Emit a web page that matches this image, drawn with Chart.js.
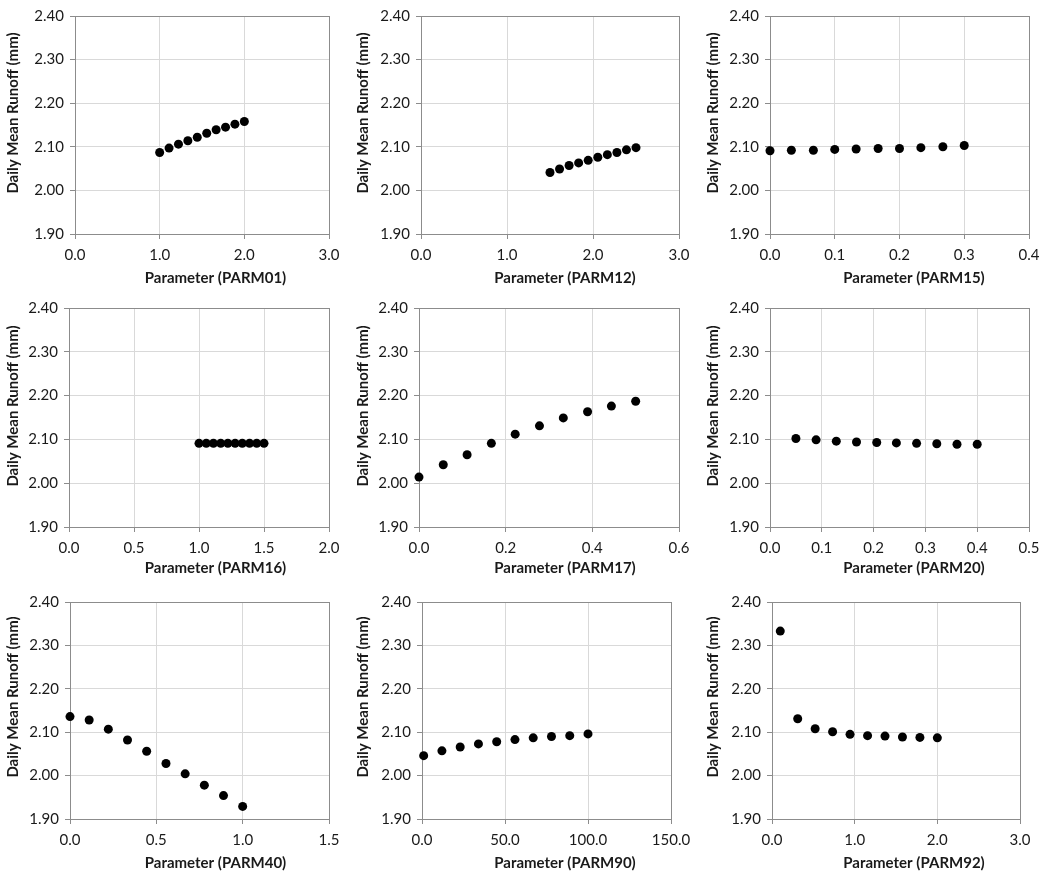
<!DOCTYPE html>
<html><head><meta charset="utf-8">
<script src="https://cdn.jsdelivr.net/npm/chart.js@4/dist/chart.umd.min.js"></script>
<style>
html,body{margin:0;padding:0;background:#fff;}
#wrap{position:relative;width:1048px;height:877px;overflow:hidden;}
#wrap canvas{position:absolute;}
</style></head><body><div id="wrap"></div>
<script>
// ---- data ----
const yTitle = 'Daily Mean Runoff (mm)';
const parmNames = ['PARM01','PARM12','PARM15','PARM16','PARM17','PARM20','PARM40','PARM90','PARM92'];

const parm01X = [1.000,1.111,1.222,1.333,1.444,1.556,1.667,1.778,1.889,2.000];
const parm01Y = [2.087,2.097,2.106,2.114,2.122,2.131,2.139,2.145,2.152,2.158];

const parm12X = [1.500,1.611,1.722,1.833,1.944,2.056,2.167,2.278,2.389,2.500];
const parm12Y = [2.041,2.049,2.057,2.063,2.069,2.076,2.082,2.087,2.093,2.098];

const parm15X = [0.000,0.033,0.067,0.100,0.133,0.167,0.200,0.233,0.267,0.300];
const parm15Y = [2.091,2.092,2.092,2.094,2.095,2.096,2.096,2.098,2.100,2.103];

const parm16X = [1.000,1.056,1.111,1.167,1.222,1.278,1.333,1.389,1.444,1.500];
const parm16Y = [2.091,2.091,2.091,2.091,2.091,2.091,2.091,2.091,2.091,2.091];

const parm17X = [0.000,0.056,0.111,0.167,0.222,0.278,0.333,0.389,0.444,0.500];
const parm17Y = [2.014,2.042,2.065,2.091,2.112,2.131,2.149,2.163,2.176,2.187];

const parm20X = [0.050,0.089,0.128,0.167,0.206,0.244,0.283,0.322,0.361,0.400];
const parm20Y = [2.102,2.099,2.096,2.094,2.093,2.092,2.091,2.090,2.089,2.089];

const parm40X = [0.000,0.111,0.222,0.333,0.444,0.556,0.667,0.778,0.889,1.000];
const parm40Y = [2.136,2.128,2.107,2.082,2.056,2.028,2.004,1.978,1.954,1.929];

const parm90X = [1,12,23,34,45,56,67,78,89,100];
const parm90Y = [2.046,2.057,2.066,2.073,2.078,2.083,2.087,2.090,2.092,2.096];

const parm92X = [0.100,0.311,0.522,0.733,0.944,1.156,1.367,1.578,1.789,2.000];
const parm92Y = [2.333,2.131,2.108,2.101,2.095,2.092,2.091,2.089,2.088,2.087];

const yMin = 1.90, yMax = 2.40, yStep = 0.10;
const xMaxs  = [3, 3, 0.4, 2, 0.6, 0.5, 1.5, 150, 3];
const xSteps = [1, 1, 0.1, 0.5, 0.2, 0.1, 0.5, 50, 1];

const seriesX = [parm01X,parm12X,parm15X,parm16X,parm17X,parm20X,parm40X,parm90X,parm92X];
const seriesY = [parm01Y,parm12Y,parm15Y,parm16Y,parm17Y,parm20Y,parm40Y,parm90Y,parm92Y];

// ---- layout (page pixels) ----
const colLeft = [0, 350, 700];
const rowTop = [0, 290, 583];
const plotRects = [
  [75,16,329,234],[421,16,679,234],[770,16,1029,234],
  [69,308,329,527],[419,308,679,527],[770,308,1029,527],
  [70,602,329,819],[422,602,671,819],[772,602,1020,819]
];
const xTitleCX = [215.5, 565, 914];
const xTitleCY = [278.5, 568.5, 863.5];
const yTitleCX = [13, 363, 713];
const yTitleCY = [113, 406, 697];
const X_AXIS_H = 56, RIGHT_PAD = 22;
const FONT = 'Lato, "Open Sans", sans-serif';
const TXT = '#1a1a1a', GRID = '#d9d9d9', AXIS = '#8c8c8c';

const framePlugin = {
  id: 'frame',
  beforeDatasetsDraw(chart) {
    const a = chart.chartArea, ctx = chart.ctx;
    ctx.save();
    ctx.strokeStyle = AXIS; ctx.lineWidth = 1;
    ctx.strokeRect(Math.round(a.left) + 0.5, Math.round(a.top) + 0.5,
                   Math.round(a.right - a.left), Math.round(a.bottom - a.top));
    ctx.restore();
  },
  afterDraw(chart, args, opts) {
    const ctx = chart.ctx;
    ctx.save();
    ctx.fillStyle = TXT;
    ctx.font = 'bold 15px ' + FONT;
    ctx.textAlign = 'center'; ctx.textBaseline = 'middle';
    ctx.fillText(opts.xText, opts.xcx, opts.xcy);
    ctx.translate(opts.ycx, opts.ycy);
    ctx.rotate(-Math.PI / 2);
    ctx.fillText(opts.yText, 0, 0);
    ctx.restore();
  }
};

const wrap = document.getElementById('wrap');
for (let i = 0; i < 9; i++) {
  const col = i % 3, row = Math.floor(i / 3);
  const [pl, pt, pr, pb] = plotRects[i];
  const cl = colLeft[col], ct = rowTop[row];
  const w = pr + RIGHT_PAD - cl, h = pb + X_AXIS_H - ct;
  const cv = document.createElement('canvas');
  cv.width = w; cv.height = h;
  cv.style.left = cl + 'px'; cv.style.top = ct + 'px';
  cv.style.width = w + 'px'; cv.style.height = h + 'px';
  wrap.appendChild(cv);
  const yW = pl - cl;
  const pts = seriesX[i].map((x, k) => ({x: x, y: seriesY[i][k]}));
  new Chart(cv, {
    type: 'scatter',
    data: { datasets: [{
      data: pts, backgroundColor: '#000', borderColor: '#000', borderWidth: 0,
      pointRadius: 4.5, pointHoverRadius: 4.5, clip: false
    }]},
    plugins: [framePlugin],
    options: {
      responsive: false, animation: false, devicePixelRatio: 1,
      layout: { padding: { top: pt - ct, right: RIGHT_PAD, left: 0, bottom: 0 } },
      plugins: {
        legend: { display: false }, tooltip: { enabled: false },
        frame: {
          xText: 'Parameter (' + parmNames[i] + ')', xcx: xTitleCX[col] - cl, xcy: xTitleCY[row] - ct,
          yText: yTitle, ycx: yTitleCX[col] - cl, ycy: yTitleCY[row] - ct
        }
      },
      scales: {
        x: {
          type: 'linear', min: 0, max: xMaxs[i],
          afterFit(s) { s.height = X_AXIS_H; s.paddingLeft = 0; s.paddingRight = 0; },
          ticks: { stepSize: xSteps[i], maxRotation: 0, autoSkip: false, padding: 7,
                   color: TXT, font: { family: FONT, size: 15 },
                   callback: v => Number(v).toFixed(1) },
          grid: { color: GRID, tickColor: AXIS, tickLength: 5, drawTicks: true },
          border: { display: true, color: AXIS }
        },
        y: {
          type: 'linear', min: yMin, max: yMax,
          afterFit(s) { s.width = yW; s.paddingTop = 0; s.paddingBottom = 0; },
          ticks: { stepSize: yStep, padding: 6, color: TXT, font: { family: FONT, size: 15 },
                   callback: v => Number(v).toFixed(2) },
          grid: { color: GRID, tickColor: AXIS, tickLength: 5, drawTicks: true },
          border: { display: true, color: AXIS }
        }
      }
    }
  });
}
</script></body></html>
